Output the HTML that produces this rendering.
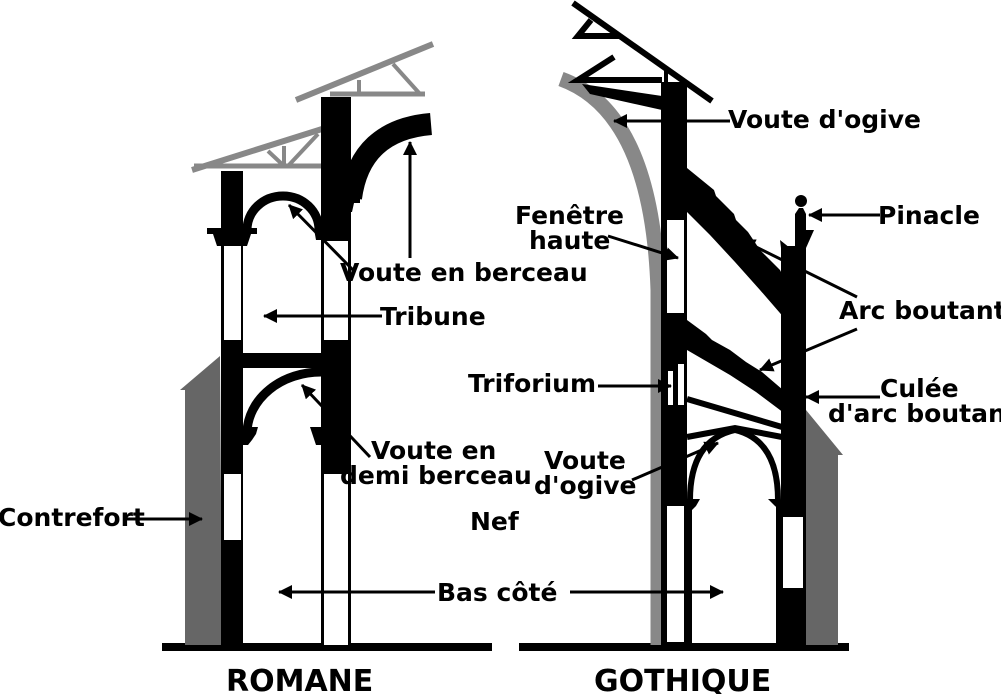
<!DOCTYPE html>
<html><head><meta charset="utf-8"><style>
html,body{margin:0;padding:0;background:#fff;}
svg{display:block;}
text{font-family:"DejaVu Sans","Liberation Sans",sans-serif;font-weight:bold;font-size:25px;fill:#000;}
</style></head><body>
<svg width="1001" height="694" viewBox="0 0 1001 694" xmlns="http://www.w3.org/2000/svg">
<defs>
<marker id="b" markerWidth="14" markerHeight="14" refX="13" refY="7" orient="auto" markerUnits="userSpaceOnUse" viewBox="0 0 14 14">
<path d="M0,0 L14,7 L0,14 z" fill="#000"/></marker>
</defs>

<!-- ROMANE -->
<rect x="162" y="643" width="330" height="8" fill="#000"/>
<polygon points="180,390 220,356 222,645 185,645 185,390" fill="#666"/>
<g stroke="#888" fill="none" stroke-width="6">
<line x1="192" y1="170" x2="322" y2="129"/>
<line x1="194" y1="166" x2="322" y2="166" stroke-width="5"/>
<line x1="284" y1="146" x2="284" y2="166" stroke-width="4"/>
<line x1="268" y1="151" x2="284" y2="166" stroke-width="4"/>
<line x1="288" y1="166" x2="318" y2="134" stroke-width="4"/>
<line x1="296" y1="100" x2="433" y2="44"/>
<line x1="330" y1="94" x2="425" y2="94" stroke-width="5"/>
<line x1="359" y1="80" x2="359" y2="94" stroke-width="4"/>
<line x1="393" y1="64" x2="420" y2="94" stroke-width="4"/>
</g>
<rect x="221" y="171" width="22" height="474" fill="#000"/>
<rect x="224" y="246" width="17" height="94" fill="#fff"/>
<rect x="224" y="474" width="17" height="66" fill="#fff"/>
<polygon points="207,228 257,228 257,234 251,234 249,240 247,246 217,246 215,240 213,234 207,234" fill="#000"/>
<rect x="321" y="97" width="30" height="548" fill="#000"/>
<rect x="324" y="241" width="24" height="99" fill="#fff"/>
<rect x="324" y="474" width="24" height="171" fill="#fff"/>
<polygon points="314,229 322,229 322,240 316,240" fill="#000"/>
<polygon points="350,197 360,197 360,203 354,203 352,212 350,212" fill="#000"/>
<polygon points="310,427 322,427 322,445 316,445" fill="#000"/>
<polygon points="243,427 258,427 256,434 252,440 248,445 243,445" fill="#000"/>
<path d="M247,230 A36,34 0 0 1 319,230" fill="none" stroke="#000" stroke-width="9"/>
<rect x="243" y="353" width="78" height="15" fill="#000"/>
<path d="M247,432 A74,62 0 0 1 321,372" fill="none" stroke="#000" stroke-width="9"/>
<path d="M351,198 Q360,130 431,124" fill="none" stroke="#000" stroke-width="22"/>

<!-- GOTHIQUE -->
<rect x="519" y="643" width="330" height="8" fill="#000"/>
<path d="M561,79 Q652,112 658,290 L658,645" fill="none" stroke="#888" stroke-width="15"/>
<polygon points="645,224 652,224 652,232" fill="#888"/>
<g stroke="#000" stroke-width="6" fill="none">
<line x1="573" y1="3" x2="712" y2="101"/>
<polyline points="591,20 578,36 620,36"/>
<polyline points="614,57 578,80 662,80"/>
<line x1="666" y1="68" x2="666" y2="86" stroke-width="4"/>
</g>
<polygon points="582,84 662,96 662,110 590,94" fill="#000"/>
<rect x="661" y="82" width="26" height="563" fill="#000"/>
<rect x="667" y="220" width="17" height="93" fill="#fff"/>
<rect x="667" y="506" width="17" height="136" fill="#fff"/>
<rect x="668" y="371" width="5" height="34" fill="#fff"/>
<rect x="678" y="364" width="6" height="41" fill="#fff"/>
<polygon points="687,168 714,190 716,196 734,214 736,220 748,232 760,250 780,270 806,320 786,320 760,290 735,262 710,235 687,212" fill="#000"/>
<polygon points="687,320 706,334 712,340 730,350 746,362 762,372 783,390 806,410 806,430 780,410 756,392 730,375 687,350" fill="#000"/>
<g stroke="#000" stroke-width="6" fill="none">
<line x1="687" y1="399" x2="782" y2="427"/>
<polyline points="687,437 735,428 782,437"/>
<path d="M690,500 Q690,440 735,430 Q778,440 778,500"/>
<line x1="689" y1="500" x2="689" y2="645"/>
<line x1="779" y1="500" x2="779" y2="645"/>
</g>
<polygon points="684,499 700,499 696,506 692,510" fill="#000"/>
<polygon points="768,499 780,499 780,510 775,506" fill="#000"/>
<rect x="781" y="246" width="25" height="399" fill="#000"/>
<rect x="783" y="517" width="20" height="71" fill="#fff"/>
<polygon points="795,214 799,208 803,208 806,214 806,246 795,246" fill="#000"/>
<circle cx="801" cy="201" r="6" fill="#000"/>
<polygon points="806,230 814,230 806,248" fill="#000"/>
<polygon points="780,240 790,248 782,256" fill="#000"/>
<polygon points="806,410 843,455 838,455 838,645 806,645" fill="#666"/>

<g stroke="#000" stroke-width="3" fill="none" marker-end="url(#b)">
<line x1="410" y1="258" x2="410" y2="142"/>
<line x1="353" y1="270" x2="289" y2="205"/>
<line x1="382" y1="316" x2="264" y2="316"/>
<line x1="370" y1="457" x2="302" y2="385"/>
<line x1="125" y1="519" x2="202" y2="519"/>
<line x1="435" y1="592" x2="279" y2="592"/>
<line x1="570" y1="592" x2="723" y2="592"/>
<line x1="730" y1="121" x2="614" y2="121"/>
<line x1="608" y1="236" x2="678" y2="258"/>
<line x1="880" y1="215" x2="809" y2="215"/>
<line x1="857" y1="297" x2="742" y2="240"/>
<line x1="857" y1="329" x2="760" y2="370"/>
<line x1="598" y1="386" x2="671" y2="386"/>
<line x1="880" y1="397" x2="806" y2="397"/>
<line x1="632" y1="480" x2="718" y2="443"/>
</g>

<text x="340" y="281">Voute en berceau</text>
<text x="380" y="325">Tribune</text>
<text x="371" y="459">Voute en</text>
<text x="340" y="484">demi berceau</text>
<text x="-2" y="526">Contrefort</text>
<text x="470" y="530">Nef</text>
<text x="437" y="601">Bas côté</text>
<text x="226" y="691" style="font-size:30px">ROMANE</text>
<text x="594" y="691" style="font-size:30px">GOTHIQUE</text>
<text x="728" y="128">Voute d'ogive</text>
<text x="515" y="224">Fenêtre</text>
<text x="529" y="249">haute</text>
<text x="878" y="224">Pinacle</text>
<text x="839" y="319">Arc boutant</text>
<text x="468" y="392">Triforium</text>
<text x="880" y="397">Culée</text>
<text x="828" y="422">d'arc boutant</text>
<text x="544" y="469">Voute</text>
<text x="534" y="494">d'ogive</text>
</svg>
</body></html>
